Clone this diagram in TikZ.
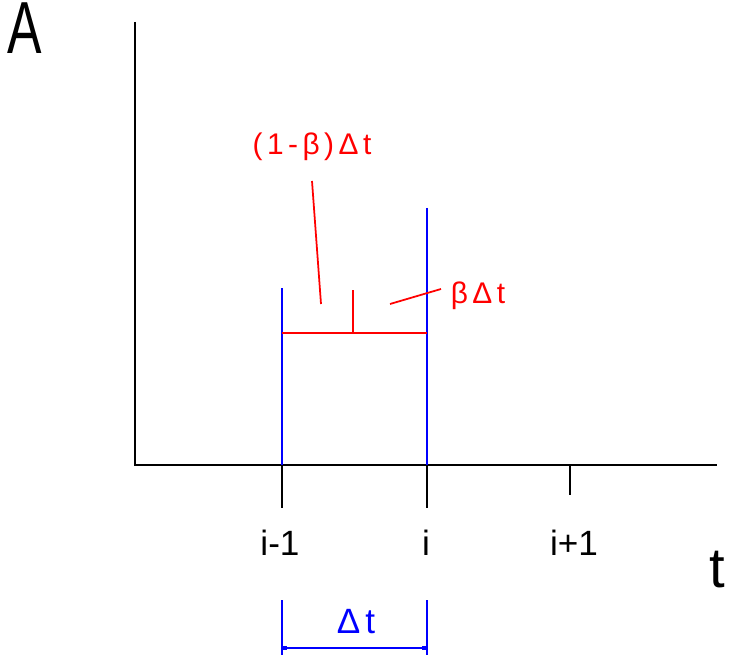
\documentclass[tikz,border=0pt]{standalone}
\usepackage{fontspec}
\setmainfont{Liberation Sans}
\newfontfamily\widefont[LetterSpace=15]{Liberation Sans}
\usetikzlibrary{arrows.meta}

\tikzset{
  axis/.style={line width=1pt},
  blueline/.style={blue, line width=1pt},
  redline/.style={red, line width=1pt},
  lbl/.style={anchor=base, inner sep=0pt},
}

\begin{document}
\begin{tikzpicture}[x=0.02cm, y=-0.02cm]
  \useasboundingbox (0,0) rectangle (730,655);

  % Axes
  \coordinate (O) at (135,465);
  \coordinate (ytop) at (135,22);
  \coordinate (xend) at (717,465);
  \draw[axis] (ytop) -- (O) -- (xend);
  \node[lbl, font=\fontsize{42}{42}\selectfont, xscale=0.7, text height=21pt] (A) at (25,54) {A};
  \node[lbl, font=\fontsize{32}{32}\selectfont] (t) at (717,587) {t};

  % Ticks
  \coordinate (x1) at (282,465);
  \coordinate (x2) at (427,465);
  \coordinate (x3) at (570,465);
  \coordinate (x1b) at (282,508);
  \coordinate (x2b) at (427,508);
  \coordinate (x3b) at (570,495);
  \draw[axis] (x1) -- (x1b);
  \draw[axis] (x2) -- (x2b);
  \draw[axis] (x3) -- (x3b);
  \node[lbl, font=\fontsize{20}{20}\selectfont] (l1) at (280,555) {i-1};
  \node[lbl, font=\fontsize{20}{20}\selectfont] (l2) at (426,555) {i};
  \node[lbl, font=\fontsize{20}{20}\selectfont] (l3) at (574,555) {i+1};

  % Step lines
  \coordinate (s1) at (282,288);
  \coordinate (s2) at (427,208);
  \draw[blueline] (s1) -- (x1);
  \draw[blueline] (s2) -- (x2);

  % Split of the step
  \coordinate (r1) at (282,333);
  \coordinate (r2) at (427,333);
  \coordinate (rm) at (353,333);
  \coordinate (rmtop) at (353,290);
  \draw[redline] (r1) -- (r2);
  \draw[redline] (rm) -- (rmtop);

  % Leaders
  \node[lbl, red, font=\widefont\fontsize{17}{17}\selectfont] (left part) at (312,155) {(1-β)Δt};
  \node[lbl, red, font=\widefont\fontsize{17}{17}\selectfont] (right part) at (478,303) {βΔt};
  \coordinate (ld1) at (312,181);
  \coordinate (ld2) at (321,304);
  \coordinate (rd1) at (390,304);
  \coordinate (rd2) at (441,289);
  \draw[redline] (ld1) -- (ld2);
  \draw[redline] (rd1) -- (rd2);

  % Dimension
  \coordinate (d1) at (282,600);
  \coordinate (d2) at (427,600);
  \coordinate (d1b) at (282,655);
  \coordinate (d2b) at (427,655);
  \coordinate (e1) at (282,648);
  \coordinate (e2) at (427,648);
  \draw[blueline] (d1) -- (d1b);
  \draw[blueline] (d2) -- (d2b);
  \draw[blueline, {Square[length=3pt,width=2.5pt]}-{Square[length=3pt,width=2.5pt]}] (e1) -- (e2);
  \node[lbl, blue, font=\widefont\fontsize{20}{20}\selectfont] (dt) at (356,633) {Δt};
\end{tikzpicture}
\end{document}
